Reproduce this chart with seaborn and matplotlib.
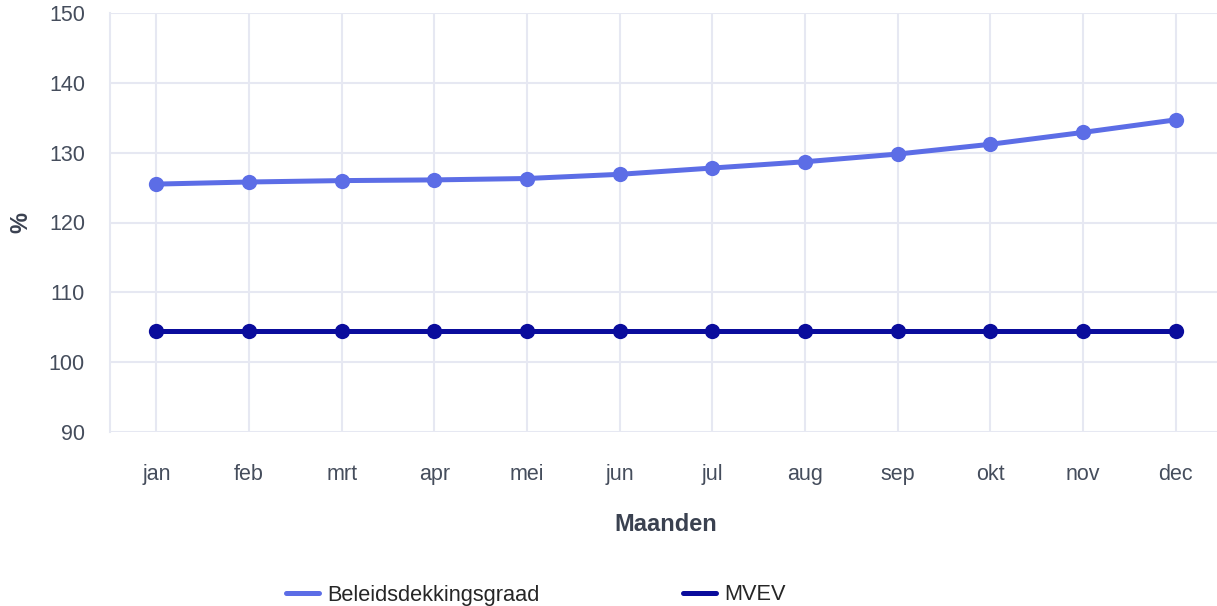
import pandas as pd
import matplotlib.pyplot as plt
import seaborn as sns
from matplotlib.lines import Line2D

#data
maanden = ["jan", "feb", "mrt", "apr", "mei", "jun", "jul", "aug", "sep", "okt", "nov", "dec"]
beleidsdekkingsgraad = [125.5, 125.8, 126.0, 126.1, 126.3, 126.9, 127.8, 128.7, 129.8, 131.2, 132.9, 134.7]
mvev = [104.4, 104.4, 104.4, 104.4, 104.4, 104.4, 104.4, 104.4, 104.4, 104.4, 104.4, 104.4]
y_ticks = [90, 100, 110, 120, 130, 140, 150]

series_names = ["Beleidsdekkingsgraad", "MVEV"]
colors = ["#5c6de6", "#0a0c9c"]

df = pd.DataFrame({
    "maand": maanden * 2,
    "waarde": beleidsdekkingsgraad + mvev,
    "reeks": [series_names[0]] * len(maanden) + [series_names[1]] * len(maanden),
})
df["pos"] = df["maand"].map({m: i for i, m in enumerate(maanden)})

#style
sns.set_style("white")
plt.rcParams["font.family"] = ["Liberation Sans", "DejaVu Sans"]
grid_color = "#e6e8f2"
tick_color = "#454d5c"

fig = plt.figure(figsize=(12.17, 6.06), dpi=100)
ax = fig.add_axes([110 / 1217, 1 - 432 / 606, 1112 / 1217, 419 / 606])

sns.lineplot(data=df, x="pos", y="waarde", hue="reeks", palette=colors,
             marker="o", markersize=11, markeredgewidth=0, linewidth=3.6,
             ax=ax, legend=False, zorder=3)

ax.set_xlim(-0.5, len(maanden) - 0.5)
ax.set_ylim(90, 150)
ax.set_xticks(range(len(maanden)))
ax.set_xticklabels(maanden)
ax.set_yticks(y_ticks)

ax.grid(True, color=grid_color, linewidth=1.5)
ax.set_axisbelow(True)
for side in ["top", "right", "bottom"]:
    ax.spines[side].set_visible(False)
ax.spines["left"].set_color(grid_color)
ax.spines["left"].set_linewidth(1.5)
ax.tick_params(axis="both", length=10, width=1.5, color=grid_color,
               labelcolor=tick_color, labelsize=15.5)
ax.tick_params(axis="x", pad=13)
ax.tick_params(axis="y", pad=8)

ax.set_xlabel("Maanden", fontsize=17, fontweight="bold", color="#3a4150", labelpad=20)
ax.set_ylabel("%", fontsize=17, fontweight="bold", color="#3a4150", labelpad=12)

#legend
handles = [Line2D([0], [0], color=c, linewidth=3.6) for c in colors]
fig.legend(handles, series_names, loc="center", bbox_to_anchor=(536 / 1217, 1 - 595 / 606),
           ncol=2, frameon=False, fontsize=15.7, handlelength=1.5, handletextpad=0.41,
           columnspacing=6.55)

plt.savefig("out.png", dpi=100)
